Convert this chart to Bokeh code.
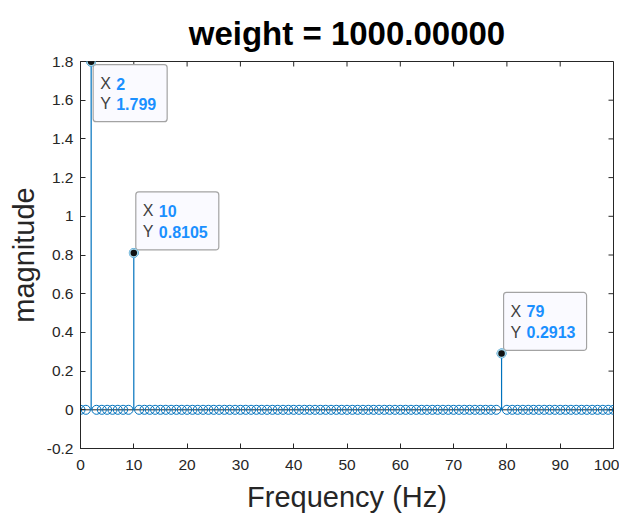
from bokeh.plotting import figure
from bokeh.models import FixedTicker, Range1d, ColumnDataSource
from bokeh.embed import file_html
from bokeh.resources import INLINE
from bokeh.core.properties import value

# ---- data ----
freqs = list(range(0, 101))
peak_freqs = [2, 10, 79]
peak_mags = [1.799, 0.8105, 0.2913]
mags = [0.0] * len(freqs)
for f, m in zip(peak_freqs, peak_mags):
    mags[f] = m

title_text = "weight = 1000.00000"
x_label = "Frequency (Hz)"
y_label = "magnitude"
x_ticks = [0, 10, 20, 30, 40, 50, 60, 70, 80, 90, 100]
x_tick_labels = ["0", "10", "20", "30", "40", "50", "60", "70", "80", "90", "100"]
y_ticks = [-0.2, 0, 0.2, 0.4, 0.6, 0.8, 1.0, 1.2, 1.4, 1.6, 1.8]
y_tick_labels = ["-0.2", "0", "0.2", "0.4", "0.6", "0.8", "1", "1.2", "1.4", "1.6", "1.8"]
tip_x_text = ["2", "10", "79"]
tip_y_text = ["1.799", "0.8105", "0.2913"]

# ---- style / layout ----
FONT = "Liberation Sans"
BLUE = "#0072BD"
AX = "#262626"
TIP_BLUE = "#1a90ff"
FW, FH = 533, 387
XMIN, XMAX = 0, 100
YMIN, YMAX = -0.2, 1.8
sx = FW / (XMAX - XMIN)
sy = FH / (YMAX - YMIN)
TICK = 5  # px

p = figure(width=619, height=512, frame_width=FW, frame_height=FH,
           x_range=Range1d(XMIN, XMAX), y_range=Range1d(YMIN, YMAX),
           output_backend="svg", toolbar_location=None,
           min_border_left=80, min_border_right=6, min_border_top=61, min_border_bottom=64,
           background_fill_color="white", border_fill_color="white")
p.grid.visible = False
p.outline_line_color = AX
p.outline_line_width = 1

p.title.text = title_text
p.title.align = "center"
p.title.text_font = FONT
p.title.text_font_size = "33px"
p.title.text_font_style = "bold"
p.title.text_color = "black"
p.title.standoff = 20

for ax in (p.xaxis[0], p.yaxis[0]):
    ax.major_tick_in = TICK
    ax.major_tick_out = 0
    ax.minor_tick_line_color = None
    ax.axis_line_color = AX
    ax.major_tick_line_color = AX
    ax.major_label_text_font = FONT
    ax.major_label_text_font_size = "15.5px"
    ax.major_label_text_color = AX
    ax.axis_label_text_font = FONT
    ax.axis_label_text_font_size = "29px"
    ax.axis_label_text_font_style = "normal"
    ax.axis_label_text_color = AX

p.xaxis[0].ticker = FixedTicker(ticks=x_ticks)
p.xaxis[0].major_label_overrides = dict(zip(x_ticks, x_tick_labels))
p.xaxis[0].axis_label = x_label
p.xaxis[0].major_label_standoff = 11
p.xaxis[0].axis_label_standoff = 8
p.yaxis[0].ticker = FixedTicker(ticks=y_ticks)
p.yaxis[0].major_label_overrides = {t: l for t, l in zip(y_ticks, y_tick_labels)}
p.yaxis[0].axis_label = y_label
p.yaxis[0].major_label_standoff = 7
p.yaxis[0].axis_label_standoff = 4

# inward ticks on the top and right edges of the box, from the same tick lists
p.segment(x0=x_ticks, x1=x_ticks, y0=[YMAX] * len(x_ticks),
          y1=[YMAX - TICK / sy] * len(x_ticks), line_color=AX, line_width=1)
p.segment(x0=[XMAX] * len(y_ticks), x1=[XMAX - TICK / sx] * len(y_ticks),
          y0=y_ticks, y1=y_ticks, line_color=AX, line_width=1)

src = ColumnDataSource(dict(x=freqs, y=mags, y0=[0.0] * len(freqs)))
# baseline
p.line(x=[XMIN, XMAX], y=[0, 0], line_color=AX, line_width=1)
# stems
p.segment(x0="x", y0="y0", x1="x", y1="y", source=src, line_color=BLUE, line_width=1.2)
p.scatter(x="x", y="y", source=src, marker="circle", size=9,
          fill_color=None, line_color=BLUE, line_width=1)

# ---- data tips ----
tip_w = [74, 83, 83]
tip_above = [False, True, True]
box_l, box_r, box_t, box_b = [], [], [], []
for f, m, w, above in zip(peak_freqs, peak_mags, tip_w, tip_above):
    box_l.append(f + 2 / sx)
    box_r.append(f + (2 + w) / sx)
    if above:
        box_b.append(m + 3 / sy)
        box_t.append(m + 61 / sy)
    else:
        box_t.append(m - 3 / sy)
        box_b.append(m - 60 / sy)
quad_kw = dict(left=box_l, right=box_r, top=box_t, bottom=box_b,
               fill_color="#fafaff", line_color="#a3a3a3", line_width=1.2)
try:
    p.quad(border_radius=3, **quad_kw)
except Exception:
    p.quad(**quad_kw)

for f, m, xt, yt, above in zip(peak_freqs, peak_mags, tip_x_text, tip_y_text, tip_above):
    l1 = -42 if above else 22
    l2 = -21 if above else 42
    for txt, lab, off in (("X", xt, l1), ("Y", yt, l2)):
        p.text(x=[f], y=[m], text=[txt], x_offset=9, y_offset=off,
               text_font=value(FONT), text_font_size="16px", text_color="#404040",
               text_align="left", text_baseline="middle")
        p.text(x=[f], y=[m], text=[lab], x_offset=25, y_offset=off,
               text_font=value(FONT), text_font_size="16px", text_font_style="bold",
               text_color=TIP_BLUE, text_align="left", text_baseline="middle")

p.scatter(x=peak_freqs, y=peak_mags, marker="circle", size=8,
          fill_color="#111111", line_color="#9fd3e8", line_width=1.5)

open("out.html", "w").write(file_html(p, INLINE))
